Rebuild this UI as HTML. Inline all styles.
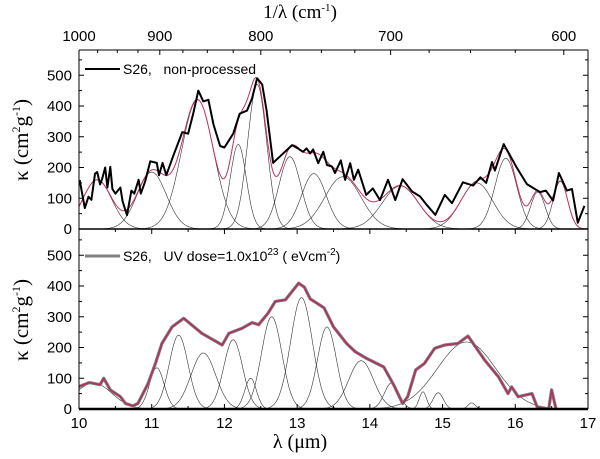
<!DOCTYPE html>
<html><head><meta charset="utf-8"><style>
html,body{margin:0;padding:0;background:#fff;}
svg{display:block;}
text{font-family:"Liberation Sans",Arial,sans-serif;}
.serif{font-family:"Liberation Serif","DejaVu Serif",serif;}
</style></head><body>
<svg id="chart" width="600" height="459" viewBox="0 0 600 459" xmlns="http://www.w3.org/2000/svg"></svg>
<script>
// ---- data ----
const xTicks = [10,11,12,13,14,15,16,17];
const yTicks = [0,100,200,300,400,500];
const topTicks = [1000,900,800,700,600];
// top panel: observed (non-processed)
const topObsX = [10.01,10.08,10.13,10.17,10.22,10.25,10.29,10.32,10.36,10.39,10.43,10.46,10.5,10.57,10.6,10.66,10.72,10.76,10.82,10.85,10.91,10.98,11.07,11.1,11.15,11.2,11.3,11.42,11.5,11.57,11.64,11.71,11.78,11.85,11.94,12.0,12.12,12.21,12.31,12.38,12.45,12.52,12.58,12.67,12.76,12.93,13.01,13.08,13.13,13.18,13.22,13.29,13.36,13.41,13.48,13.52,13.6,13.66,13.73,13.78,13.84,13.95,14.04,14.14,14.25,14.35,14.45,14.58,14.69,14.78,14.9,15.03,15.13,15.28,15.42,15.52,15.6,15.68,15.72,15.84,16.02,16.16,16.34,16.42,16.52,16.6,16.71,16.78,16.86,16.95];
const topObsY = [159,68,105,95,180,185,145,165,200,135,202,130,115,135,90,45,125,115,160,115,155,220,215,175,215,175,240,315,310,375,450,415,420,340,270,265,310,375,385,425,490,470,385,215,235,273,262,251,262,246,259,214,251,208,203,182,223,160,214,160,193,111,132,94,160,94,162,122,106,79,46,111,84,152,141,168,150,218,190,276,200,146,120,125,92,182,125,130,20,75];
// top panel Gaussian components: center (um), amplitude, sigma
const topCenters = [10.25,11.0,11.63,12.19,12.45,12.9,13.23,13.63,14.42,15.47,15.87,16.31,16.62];
const topAmps    = [160,185,420,275,470,235,180,170,140,150,230,120,155];
const topSigmas  = [0.2,0.2,0.22,0.11,0.13,0.15,0.17,0.25,0.25,0.22,0.15,0.1,0.1];
// bottom panel: observed (UV processed)
const botObsX = [10.0,10.14,10.29,10.34,10.43,10.57,10.64,10.74,10.81,10.95,11.05,11.14,11.28,11.44,11.69,11.97,12.06,12.24,12.38,12.47,12.6,12.7,12.84,13.02,13.1,13.18,13.37,13.5,13.68,13.8,13.96,14.19,14.33,14.45,14.52,14.63,14.75,14.89,15.03,15.21,15.35,15.58,15.77,15.9,15.95,16.04,16.23,16.3,16.46,16.5,16.56];
const botObsY = [73,86,79,100,62,40,18,10,18,83,148,213,267,295,246,208,246,262,281,274,312,350,355,409,396,358,329,267,213,186,164,137,77,18,40,127,148,197,208,213,237,159,104,50,72,40,50,7,0,62,0];
const botCenters = [10.2,11.07,11.37,11.71,12.12,12.36,12.65,13.06,13.41,13.88,14.3,14.73,14.94,15.4,15.33];
const botAmps    = [85,134,240,182,225,100,300,362,267,157,85,56,53,20,218];
const botSigmas  = [0.25,0.1,0.13,0.17,0.13,0.08,0.14,0.15,0.13,0.17,0.1,0.05,0.07,0.05,0.4];

// ---- layout ----
const X0=79, X1=588, TOPY0=229, BOTY0=409, PXPER100=30.75, TOPFRAME=50;
const sx = v => X0 + (v-10)*(X1-X0)/7;
const syTop = v => TOPY0 - v*PXPER100/100;
const syBot = v => BOTY0 - v*PXPER100/100;
const NS='http://www.w3.org/2000/svg';
const svg=document.getElementById('chart');
function mk(tag, attrs, parent){const e=document.createElementNS(NS,tag);for(const k in attrs)e.setAttribute(k,attrs[k]);(parent||svg).appendChild(e);return e;}
function gauss(x,c,a,s){return a*Math.exp(-0.5*((x-c)/s)**2);}
function pathFrom(xs,ys,sy){return xs.map((x,i)=>(i?'L':'M')+sx(x).toFixed(1)+','+sy(ys[i]).toFixed(1)).join('');}

const defs=mk('defs',{});
const c1=mk('clipPath',{id:'clipTop'},defs);mk('rect',{x:X0,y:TOPFRAME,width:X1-X0,height:TOPY0-TOPFRAME},c1);
const c2=mk('clipPath',{id:'clipBot'},defs);mk('rect',{x:X0,y:TOPY0,width:X1-X0,height:BOTY0-TOPY0+1},c2);

function drawComponents(centers,amps,sigmas,sy,clip,name){
  const g=mk('g',{'clip-path':'url(#'+clip+')'});
  
  
  for(let k=0;k<centers.length;k++){
    let d='';
    for(let x=10;x<=17.001;x+=0.01){d+=(x===10?'M':'L')+sx(x).toFixed(1)+','+sy(gauss(x,centers[k],amps[k],sigmas[k])).toFixed(1);}
    const p=mk('path',{d:d,fill:'none',stroke:'#333',"stroke-width":0.6},g);
    
    
  }
  return g;
}
drawComponents(topCenters,topAmps,topSigmas,syTop,'clipTop','top-components');
drawComponents(botCenters,botAmps,botSigmas,syBot,'clipBot','bottom-components');

{
  let d='';
  for(let x=10;x<=17.001;x+=0.01){let s=0;for(let k=0;k<topCenters.length;k++)s+=gauss(x,topCenters[k],topAmps[k],topSigmas[k]);d+=(x===10?'M':'L')+sx(x).toFixed(1)+','+syTop(s).toFixed(1);}
  const p=mk('path',{d:d,fill:'none',stroke:'#c0306a',"stroke-width":1,'clip-path':'url(#clipTop)'});
  
  
}
{
  const p=mk('path',{d:pathFrom(topObsX,topObsY,syTop),fill:'none',stroke:'#000',"stroke-width":2,"stroke-linejoin":'round','clip-path':'url(#clipTop)'});
  
  
}
{
  const p=mk('path',{d:pathFrom(botObsX,botObsY,syBot),fill:'none',stroke:'#808080',"stroke-width":3.2,"stroke-linejoin":'round','clip-path':'url(#clipBot)'});
  
  
  const q=mk('path',{d:pathFrom(botObsX,botObsY,syBot),fill:'none',stroke:'#b03060',"stroke-width":1.6,"stroke-linejoin":'round','clip-path':'url(#clipBot)'});
  
  
}

const ax=mk('g',{stroke:'#000',"stroke-width":1,fill:'none'});


mk('line',{x1:X0,y1:TOPFRAME,x2:X0,y2:BOTY0},ax);
mk('line',{x1:X1,y1:TOPFRAME,x2:X1,y2:BOTY0},ax);
mk('line',{x1:X0,y1:TOPFRAME,x2:X1,y2:TOPFRAME},ax);
mk('line',{x1:X0,y1:TOPY0,x2:X1,y2:TOPY0,"stroke-width":1.5},ax);
mk('line',{x1:X0,y1:BOTY0,x2:X1,y2:BOTY0,"stroke-width":2.5},ax);
for(let v=10;v<=17.001;v+=0.5){
  const major=Math.abs(v-Math.round(v))<1e-6;
  mk('line',{x1:sx(v),y1:BOTY0,x2:sx(v),y2:BOTY0-(major?5:3)},ax);
  mk('line',{x1:sx(v),y1:TOPY0,x2:sx(v),y2:TOPY0+(major?5:3)},ax);
}
for(let v=0;v<=550;v+=50){
  const major=v%100===0;
  [syTop,syBot].forEach(sy=>{
    mk('line',{x1:X0,y1:sy(v),x2:X0+(major?5:3),y2:sy(v)},ax);
    mk('line',{x1:X1,y1:sy(v),x2:X1-(major?5:3),y2:sy(v)},ax);
  });
}
for(let w=1000;w>=600;w-=25){
  const x=sx(10000/w); if(x>X1+0.5)continue;
  mk('line',{x1:x,y1:TOPFRAME,x2:x,y2:TOPFRAME+(w%100===0?5:3)},ax);
}

function txt(s,x,y,attrs,name){const t=mk('text',Object.assign({x:x,y:y,fill:'#000'},attrs||{}));t.innerHTML=s;return t;}
xTicks.forEach(v=>txt(String(v),sx(v),428,{"font-size":15,"text-anchor":'middle'},'x-tick-label'));
yTicks.forEach(v=>{
  txt(String(v),72,syTop(v)+5,{"font-size":15,"text-anchor":'end'},'y-tick-label-top');
  txt(String(v),72,syBot(v)+5,{"font-size":15,"text-anchor":'end'},'y-tick-label-bottom');
});
topTicks.forEach(w=>txt(String(w),sx(10000/w),41,{"font-size":15,"text-anchor":'middle'},'top-tick-label'));

txt('1/λ (cm<tspan dy="-7" font-size="11">-1</tspan><tspan dy="7">)</tspan>',300,18,{"font-size":19,"text-anchor":'middle',class:'serif'},'top-axis-title');
txt('λ (μm)',300,448,{"font-size":20,"text-anchor":'middle',class:'serif'},'x-axis-title');
txt('κ (cm<tspan dy="-8" font-size="12">2</tspan><tspan dy="8">g</tspan><tspan dy="-8" font-size="12">-1</tspan><tspan dy="8">)</tspan>',0,0,{"font-size":21,"text-anchor":'middle',class:'serif',transform:'translate(28,140) rotate(-90)'},'y-axis-title-top');
txt('κ (cm<tspan dy="-8" font-size="12">2</tspan><tspan dy="8">g</tspan><tspan dy="-8" font-size="12">-1</tspan><tspan dy="8">)</tspan>',0,0,{"font-size":21,"text-anchor":'middle',class:'serif',transform:'translate(28,320) rotate(-90)'},'y-axis-title-bottom');

{
  const l=mk('line',{x1:85,y1:69,x2:120,y2:69,stroke:'#000',"stroke-width":2});
  
  
  txt('S26,&#160;&#160;&#160;non-processed',123,74,{"font-size":14},'legend-entry-top');
  const l2=mk('line',{x1:85,y1:256,x2:120,y2:256,stroke:'#808080',"stroke-width":3});
  
  
  txt('S26,&#160;&#160;&#160;UV dose=1.0x10<tspan dy="-6" font-size="10">23</tspan><tspan dy="6"> ( eVcm</tspan><tspan dy="-6" font-size="10">-2</tspan><tspan dy="6">)</tspan>',123,261,{"font-size":14},'legend-entry-bottom');
}
</script>
</body></html>
